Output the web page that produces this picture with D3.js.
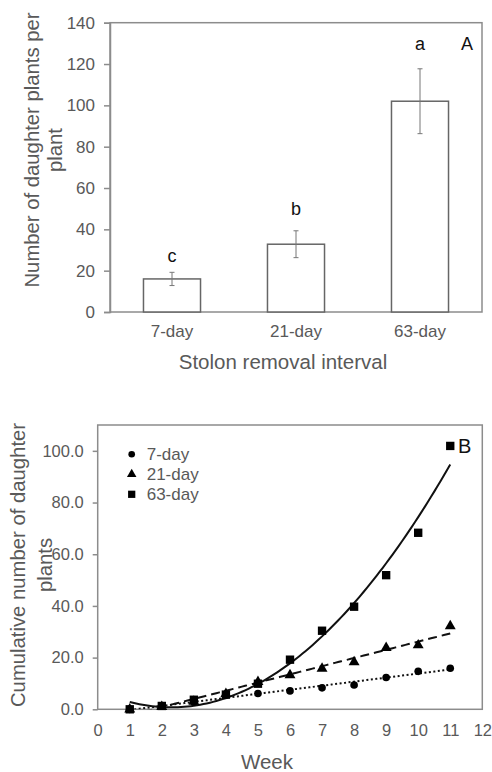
<!DOCTYPE html>
<html>
<head>
<meta charset="utf-8">
<script src="https://cdn.jsdelivr.net/npm/d3@7/dist/d3.min.js"></script>
<style>
  body { margin: 0; background: #fff; }
  svg { display: block; font-family: "Liberation Sans", Arial, sans-serif; }
</style>
</head>
<body>
<svg id="chart" width="492" height="772"></svg>
<script>
// ---- data, panel A ----
const intervals = ['7-day', '21-day', '63-day'];
const meanDaughters = [16.0, 32.8, 102.0];
const seDaughters = [3.2, 6.5, 15.7];
const sigLetters = ['c', 'b', 'a'];
const sigLetterAt = [24, 47, 127];
const yTicksA = [0, 20, 40, 60, 80, 100, 120, 140];

// ---- data, panel B ----
const weeks = [1, 2, 3, 4, 5, 6, 7, 8, 9, 10, 11];
const cum7 = [0, 1.2, 2.8, 5.4, 6.1, 7.1, 8.3, 9.4, 12.3, 14.7, 15.9];
const cum21 = [0, 1.0, 3.0, 6.0, 10.6, 13.2, 15.8, 18.3, 23.8, 24.8, 32.2];
const cum63 = [0, 1.3, 3.7, 5.7, 9.9, 19.2, 30.4, 39.7, 51.9, 68.3, 101.9];
const xTicksB = [0, 1, 2, 3, 4, 5, 6, 7, 8, 9, 10, 11, 12];
const yTicksB = [0, 20, 40, 60, 80, 100];

const svg = d3.select('#chart');
const grey = '#595959';

// ================= PANEL A =================
const A = { left: 110, right: 482, top: 22.7, bottom: 312 };
const xA = d3.scaleBand().domain(intervals).range([A.left, A.right]).paddingInner(0.54).paddingOuter(0.27);
const yA = d3.scaleLinear().domain([0, 140]).range([A.bottom, A.top]);

const gA = svg.append('g');

// frame
gA.append('rect')
  .attr('x', A.left).attr('y', A.top)
  .attr('width', A.right - A.left).attr('height', A.bottom - A.top)
  .attr('fill', 'none').attr('stroke', '#8c8c8c').attr('stroke-width', 1.5);

// bars
gA.selectAll('rect.bar')
  .data(intervals)
  .join('rect')
  .attr('class', 'bar')
  .attr('x', d => xA(d))
  .attr('y', (d, i) => yA(meanDaughters[i]))
  .attr('width', xA.bandwidth())
  .attr('height', (d, i) => yA(0) - yA(meanDaughters[i]))
  .attr('fill', '#fff').attr('stroke', '#666').attr('stroke-width', 1.5);

// error bars
const eb = gA.selectAll('g.err').data(intervals).join('g').attr('class', 'err')
  .attr('stroke', '#777').attr('stroke-width', 1);
eb.append('line')
  .attr('x1', d => xA(d) + xA.bandwidth() / 2).attr('x2', d => xA(d) + xA.bandwidth() / 2)
  .attr('y1', (d, i) => yA(meanDaughters[i] - seDaughters[i]))
  .attr('y2', (d, i) => yA(meanDaughters[i] + seDaughters[i]));
[1, -1].forEach(s => {
  eb.append('line')
    .attr('x1', d => xA(d) + xA.bandwidth() / 2 - 2.5).attr('x2', d => xA(d) + xA.bandwidth() / 2 + 2.5)
    .attr('y1', (d, i) => yA(meanDaughters[i] + s * seDaughters[i]))
    .attr('y2', (d, i) => yA(meanDaughters[i] + s * seDaughters[i]));
});

// significance letters
gA.selectAll('text.sig')
  .data(intervals)
  .join('text')
  .attr('class', 'sig')
  .attr('x', d => xA(d) + xA.bandwidth() / 2)
  .attr('y', (d, i) => yA(sigLetterAt[i]))
  .attr('text-anchor', 'middle')
  .attr('font-size', 18).attr('fill', '#111')
  .text((d, i) => sigLetters[i]);

gA.append('text')
  .attr('x', 467).attr('y', 49.5)
  .attr('text-anchor', 'middle').attr('font-size', 18).attr('fill', '#111')
  .text('A');

// axes
const axA_y = gA.append('g').attr('transform', `translate(${A.left},0)`)
  .call(d3.axisLeft(yA).tickValues(yTicksA).tickSize(6).tickPadding(9));
axA_y.select('.domain').attr('stroke', '#8c8c8c').attr('stroke-width', 1.5);
axA_y.selectAll('.tick line').attr('stroke', '#8c8c8c').attr('stroke-width', 1.5);
axA_y.selectAll('.tick text').attr('font-size', 17).attr('fill', grey).attr('font-family', null);

const axA_x = gA.append('g').attr('transform', `translate(0,${A.bottom})`)
  .call(d3.axisBottom(xA).tickSize(0).tickPadding(13));
axA_x.select('.domain').remove();
axA_x.selectAll('.tick text').attr('font-size', 17).attr('fill', grey).attr('font-family', null);

// axis titles
gA.append('text')
  .attr('x', 283).attr('y', 369)
  .attr('text-anchor', 'middle').attr('font-size', 20.5).attr('fill', grey)
  .text('Stolon removal interval');

const tA = gA.append('text')
  .attr('transform', 'translate(0,150) rotate(-90)')
  .attr('text-anchor', 'middle').attr('font-size', 20.3).attr('fill', grey);
tA.append('tspan').attr('x', 0).attr('y', 39).text('Number of daughter plants per');
tA.append('tspan').attr('x', 0).attr('y', 62).text('plant');

// ================= PANEL B =================
const B = { left: 97.7, right: 482.3, top: 425, bottom: 709.3 };
const xB = d3.scaleLinear().domain([0, 12]).range([B.left, B.right]);
const yB = d3.scaleLinear().domain([0, 110]).range([B.bottom, B.top]);

const gB = svg.append('g');

gB.append('defs').append('clipPath').attr('id', 'clipB')
  .append('rect')
  .attr('x', B.left).attr('y', B.top)
  .attr('width', B.right - B.left).attr('height', B.bottom - B.top);

gB.append('rect')
  .attr('x', B.left).attr('y', B.top)
  .attr('width', B.right - B.left).attr('height', B.bottom - B.top)
  .attr('fill', 'none').attr('stroke', '#8c8c8c').attr('stroke-width', 1.5);

// least-squares trendlines (polynomial of given order) fitted to the data
function polyFit(xs, ys, order) {
  const n = order + 1;
  const M = d3.range(n).map(() => new Array(n + 1).fill(0));
  xs.forEach((x, k) => {
    for (let i = 0; i < n; i++) {
      for (let j = 0; j < n; j++) M[i][j] += Math.pow(x, i + j);
      M[i][n] += ys[k] * Math.pow(x, i);
    }
  });
  for (let c = 0; c < n; c++) {
    for (let r = c + 1; r < n; r++) {
      const f = M[r][c] / M[c][c];
      for (let k = c; k <= n; k++) M[r][k] -= f * M[c][k];
    }
  }
  const coef = new Array(n).fill(0);
  for (let r = n - 1; r >= 0; r--) {
    let s = M[r][n];
    for (let k = r + 1; k < n; k++) s -= M[r][k] * coef[k];
    coef[r] = s / M[r][r];
  }
  return x => coef.reduce((acc, c, i) => acc + c * Math.pow(x, i), 0);
}

const seriesB = [
  { name: '7-day', values: cum7, order: 1, dash: '2,2.5', marker: d3.symbolCircle, size: 46 },
  { name: '21-day', values: cum21, order: 1, dash: '9,5', marker: d3.symbolTriangle, size: 52 },
  { name: '63-day', values: cum63, order: 2, dash: null, marker: d3.symbolSquare, size: 70 }
];

const trendG = gB.append('g').attr('clip-path', 'url(#clipB)');
const line = d3.line().x(d => xB(d[0])).y(d => yB(d[1]));
seriesB.forEach(s => {
  const f = polyFit(weeks, s.values, s.order);
  const pts = d3.range(weeks[0], weeks[weeks.length - 1] + 0.001, 0.1).map(x => [x, f(x)]);
  trendG.append('path')
    .attr('d', line(pts))
    .attr('fill', 'none').attr('stroke', '#111').attr('stroke-width', 2)
    .attr('stroke-dasharray', s.dash);
});

seriesB.forEach(s => {
  gB.selectAll(null)
    .data(weeks)
    .join('path')
    .attr('transform', (d, i) => `translate(${xB(d)},${yB(s.values[i])})`)
    .attr('d', d3.symbol().type(s.marker).size(s.size))
    .attr('fill', '#000');
});

// legend
const leg = gB.append('g');
seriesB.forEach((s, i) => {
  const cy = 454.3 + i * 20;
  leg.append('path')
    .attr('transform', `translate(131.7,${cy})`)
    .attr('d', d3.symbol().type(s.marker).size(s.size * 0.75))
    .attr('fill', '#000');
  leg.append('text')
    .attr('x', 146.7).attr('y', cy + 6)
    .attr('font-size', 17).attr('fill', grey)
    .text(s.name);
});

gB.append('text')
  .attr('x', 458).attr('y', 453)
  .attr('font-size', 20).attr('fill', '#111')
  .text('B');

// axes
const axB_y = gB.append('g').attr('transform', `translate(${B.left},0)`)
  .call(d3.axisLeft(yB).tickValues(yTicksB).tickFormat(d3.format('.1f')).tickSize(5).tickPadding(9));
axB_y.select('.domain').remove();
axB_y.selectAll('.tick line').attr('stroke', '#8c8c8c').attr('stroke-width', 1.5);
axB_y.selectAll('.tick text').attr('font-size', 16.5).attr('fill', grey).attr('font-family', null);

const axB_x = gB.append('g').attr('transform', `translate(0,${B.bottom})`)
  .call(d3.axisBottom(xB).tickValues(xTicksB).tickFormat(d3.format('d')).tickSize(0).tickPadding(15));
axB_x.select('.domain').remove();
axB_x.selectAll('.tick text').attr('font-size', 16.5).attr('fill', grey).attr('font-family', null);

gB.append('text')
  .attr('x', 267).attr('y', 769)
  .attr('text-anchor', 'middle').attr('font-size', 20.5).attr('fill', grey)
  .text('Week');

const tB = gB.append('text')
  .attr('transform', 'translate(0,565) rotate(-90)')
  .attr('text-anchor', 'middle').attr('font-size', 20.3).attr('fill', grey);
tB.append('tspan').attr('x', 0).attr('y', 25).text('Cumulative number of daughter');
tB.append('tspan').attr('x', 0).attr('y', 52).text('plants');
</script>
</body>
</html>
